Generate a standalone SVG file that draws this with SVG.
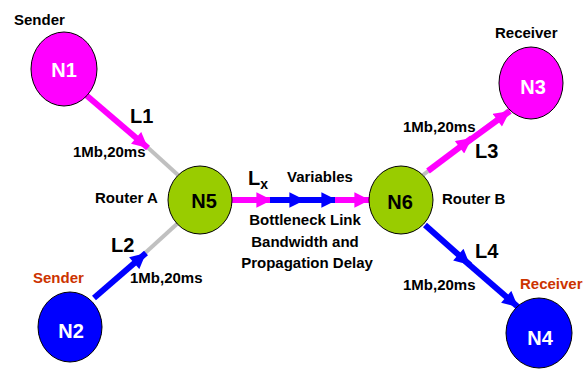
<svg xmlns="http://www.w3.org/2000/svg" width="586" height="369" viewBox="0 0 586 369">
<style>
text{font-family:"Liberation Sans",Arial,sans-serif;font-weight:bold;fill:#000}
.lab{font-size:15px}
.big{font-size:20px}
.nl{font-size:20px;text-anchor:middle}
.w{fill:#fff}
.red{fill:#CC3300}
.gray{stroke:#C0C0C0;stroke-width:4;fill:none}
.mag{stroke:#FF00FF;stroke-width:6;fill:none}
.blu{stroke:#0000FF;stroke-width:6;fill:none}
.node{stroke:#000;stroke-width:1}
</style>
<defs>
<marker id="am" viewBox="0 0 10 10" refX="10" refY="5" markerWidth="2.8" markerHeight="2.6" orient="auto" markerUnits="strokeWidth"><path d="M0,0L10,5L0,10z" fill="#FF00FF"/></marker>
<marker id="ab" viewBox="0 0 10 10" refX="10" refY="5" markerWidth="2.8" markerHeight="2.6" orient="auto" markerUnits="strokeWidth"><path d="M0,0L10,5L0,10z" fill="#0000FF"/></marker>
</defs>
<g id="connectors">
<line class="gray" x1="145" y1="145" x2="178" y2="175"/>
<line class="mag" x1="86" y1="95" x2="148" y2="148" marker-end="url(#am)"/>
<line class="gray" x1="144" y1="254" x2="178" y2="223"/>
<line class="blu" x1="94" y1="298" x2="146" y2="253" marker-end="url(#ab)"/>
<line class="gray" x1="423" y1="175" x2="510" y2="109"/>
<line class="mag" x1="428" y1="171" x2="472" y2="138" marker-end="url(#am)"/>
<line class="mag" x1="466" y1="143" x2="510" y2="111" marker-end="url(#am)"/>
<line class="blu" x1="425" y1="225" x2="470" y2="265" marker-end="url(#ab)"/>
<line class="blu" x1="465" y1="261" x2="518" y2="307" marker-end="url(#ab)"/>
<line class="mag" x1="232" y1="200" x2="272" y2="200" marker-end="url(#am)"/>
<line class="blu" x1="270" y1="200" x2="305" y2="200" marker-end="url(#ab)"/>
<line class="blu" x1="303" y1="200" x2="337" y2="200" marker-end="url(#ab)"/>
<line class="mag" x1="335" y1="200" x2="370" y2="200" marker-end="url(#am)"/>
</g>
<g id="N1"><ellipse class="node" cx="64" cy="69" rx="33" ry="37" fill="#FF00FF"/><text class="nl w" x="64" y="77">N1</text></g>
<g id="N2"><ellipse class="node" cx="70" cy="327" rx="32" ry="35" fill="#0000FF"/><text class="nl w" x="71" y="338">N2</text></g>
<g id="N3"><ellipse class="node" cx="531" cy="83" rx="32" ry="36" fill="#FF00FF"/><text class="nl w" x="533" y="94">N3</text></g>
<g id="N4"><ellipse class="node" cx="539" cy="333" rx="33" ry="35" fill="#0000FF"/><text class="nl w" x="540" y="345">N4</text></g>
<g id="N5"><ellipse class="node" cx="200" cy="200" rx="32" ry="34" fill="#99CC00"/><text class="nl" x="204" y="208">N5</text></g>
<g id="N6"><ellipse class="node" cx="401" cy="200" rx="32" ry="34" fill="#99CC00"/><text class="nl" x="400" y="209">N6</text></g>
<g id="labels">
<text class="lab" x="14" y="25">Sender</text>
<text class="big" x="130" y="123">L1</text>
<text class="lab" x="73" y="157">1Mb,20ms</text>
<text class="lab" x="95" y="203">Router A</text>
<text class="big" x="111" y="252">L2</text>
<text class="lab red" x="33" y="283">Sender</text>
<text class="lab" x="130" y="283">1Mb,20ms</text>
<text class="big" x="248" y="185">L<tspan font-size="14" dy="4">x</tspan></text>
<text class="lab" x="287" y="182">Variables</text>
<text class="lab" x="305" y="225" text-anchor="middle">Bottleneck Link</text>
<text class="lab" x="305" y="247" text-anchor="middle">Bandwidth and</text>
<text class="lab" x="307" y="268" text-anchor="middle">Propagation Delay</text>
<text class="lab" x="442" y="204">Router B</text>
<text class="lab" x="495" y="38">Receiver</text>
<text class="lab" x="403" y="132">1Mb,20ms</text>
<text class="big" x="475" y="158">L3</text>
<text class="big" x="475" y="258">L4</text>
<text class="lab" x="403" y="290">1Mb,20ms</text>
<text class="lab red" x="520" y="289">Receiver</text>
</g>
</svg>
